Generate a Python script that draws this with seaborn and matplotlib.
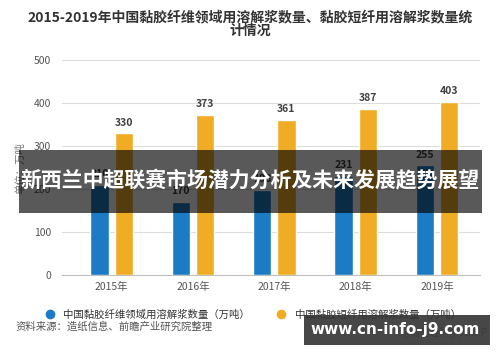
import pandas as pd
import seaborn as sns
from matplotlib import pyplot as plt
from matplotlib.lines import Line2D
from matplotlib.patches import Rectangle

years = ["2015年", "2016年", "2017年", "2018年", "2019年"]
fiber_values = [210, 170, 198, 231, 255]
staple_values = [330, 373, 361, 387, 403]
series_names = ["中国黏胶纤维领域用溶解浆数量（万吨）", "中国黏胶短纤用溶解浆数量（万吨）"]
colors = ["#1b7bc4", "#f0ac24"]

df = pd.DataFrame({
    "年份": years * 2,
    "数量": fiber_values + staple_values,
    "系列": [series_names[0]] * len(years) + [series_names[1]] * len(years),
})

sns.set_style("white")
plt.rcParams['font.family'] = ['Noto Sans CJK SC', 'DejaVu Sans']

fig = plt.figure(figsize=(5, 3.62), dpi=100)
ax = fig.add_axes([0.124, 0.240, 0.836, 0.594])

sns.barplot(df, x="年份", y="数量", hue="系列", palette=colors, saturation=1,
            width=0.6, gap=0.25, errorbar=None, legend=False, ax=ax, zorder=3)
for c in ax.containers:
    ax.bar_label(c, padding=4, fontsize=7.5, fontweight="bold", color="#404040")

ax.set_ylim(0, 500)
ax.set_yticks([0, 100, 200, 300, 400, 500])
ax.set_xlim(-0.61, 4.53)
ax.yaxis.grid(True, color="#dcdcdc", linewidth=0.8, zorder=0)
ax.set_axisbelow(True)
sns.despine(ax=ax, left=True, top=True, right=True)
ax.spines["bottom"].set_color("#bfbfbf")
ax.tick_params(axis="x", length=3, color="#bfbfbf", labelsize=7.5, labelcolor="#555555", pad=2)
ax.tick_params(axis="y", length=0, labelsize=7.5, labelcolor="#555555", pad=8)
ax.set_xlabel("")
ax.set_ylabel("单位：万吨", fontsize=7.5, color="#777777", labelpad=6)

fig.text(0.5, 0.952, "2015-2019年中国黏胶纤维领域用溶解浆数量、黏胶短纤用溶解浆数量统",
         ha="center", va="center", fontsize=10, fontweight="bold", color="#333333")
fig.text(0.5, 0.914, "计情况", ha="center", va="center", fontsize=10, fontweight="bold", color="#333333")

handles = [Line2D([], [], marker="o", linestyle="", markersize=6, color=c) for c in colors]
fig.legend(handles, series_names, loc="center", bbox_to_anchor=(0.5, 0.13), ncol=2,
           frameon=False, fontsize=7.5, labelcolor="#333333", handletextpad=0.3,
           columnspacing=2.0)

fig.text(0.032, 0.097, "资料来源：造纸信息、前瞻产业研究院整理", ha="left", va="center",
         fontsize=7.5, color="#555555")
fig.text(0.975, 0.08, "@前瞻经济学人APP", ha="right", va="center", fontsize=7, color="#888888")

# dark banner across the middle
fig.patches.append(Rectangle((0.038, 0.412), 0.926, 0.174, transform=fig.transFigure,
                             facecolor="black", alpha=0.65, edgecolor="none", zorder=5))
fig.text(0.5, 0.5, "新西兰中超联赛市场潜力分析及未来发展趋势展望", ha="center", va="center",
         fontsize=15, fontweight="bold", color="white", zorder=6)

# watermark box bottom right
fig.patches.append(Rectangle((0.608, 0.047), 0.372, 0.083, transform=fig.transFigure,
                             facecolor="#333333", alpha=0.9, edgecolor="none", zorder=5))
fig.text(0.79, 0.09, "www.cn-info-j9.com", ha="center", va="center",
         fontsize=11, fontweight="bold", color="white", family=["DejaVu Sans"], zorder=6)

plt.savefig("out.png", dpi=100)
